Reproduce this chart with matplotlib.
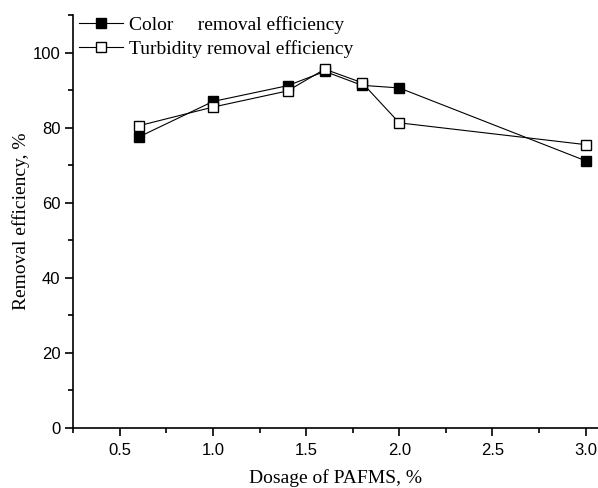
import numpy as np
import matplotlib
matplotlib.use("Agg")
import matplotlib.pyplot as plt
from matplotlib.ticker import MultipleLocator

# Doz (%) ve giderim verimleri
dosage = [0.6, 1.0, 1.4, 1.6, 1.8, 2.0, 3.0]
color_eff = [77.5, 87.0, 91.2, 95.0, 91.3, 90.6, 71.2]
turbidity_eff = [80.5, 85.5, 89.8, 95.6, 92.0, 81.3, 75.5]

fig = plt.figure(figsize=(5.98, 4.88), dpi=100)
ax = fig.add_axes([0.122, 0.123, 0.878, 0.846])

ax.plot(dosage, color_eff, color='black', lw=0.8, marker='s', ms=7,
        mfc='black', mec='black', label='Color     removal efficiency')
ax.plot(dosage, turbidity_eff, color='black', lw=0.8, marker='s', ms=7,
        mfc='white', mec='black', label='Turbidity removal efficiency')

ax.set_xlim(0.248, 3.067)
ax.set_ylim(0, 110)
ax.xaxis.set_major_locator(MultipleLocator(0.5))
ax.xaxis.set_minor_locator(MultipleLocator(0.25))
ax.yaxis.set_major_locator(MultipleLocator(20))
ax.yaxis.set_minor_locator(MultipleLocator(10))
ax.set_xticks(np.arange(0.5, 3.01, 0.5))

for s in ['top', 'right']:
    ax.spines[s].set_visible(False)
for s in ['left', 'bottom']:
    ax.spines[s].set_linewidth(1.2)

ax.tick_params(which='both', direction='out', width=1.2)
ax.tick_params(which='major', length=6, labelsize=12, pad=3)
ax.tick_params(axis='x', which='major', pad=5)
ax.tick_params(which='minor', length=3.5)
for lab in ax.get_xticklabels() + ax.get_yticklabels():
    lab.set_family('Liberation Sans')

ax.set_xlabel('Dosage of PAFMS, %', family='Liberation Serif', fontsize=14, labelpad=8)
ax.set_ylabel('Removal efficiency, %', family='Liberation Serif', fontsize=14, labelpad=2)

ax.legend(loc='upper left', frameon=False, prop={'family': 'Liberation Serif', 'size': 14},
          handlelength=2.26, handletextpad=0.3, borderaxespad=0.0, borderpad=0.0,
          labelspacing=0.3, bbox_to_anchor=(0.011, 0.998))

fig.savefig('out.png', dpi=100)
